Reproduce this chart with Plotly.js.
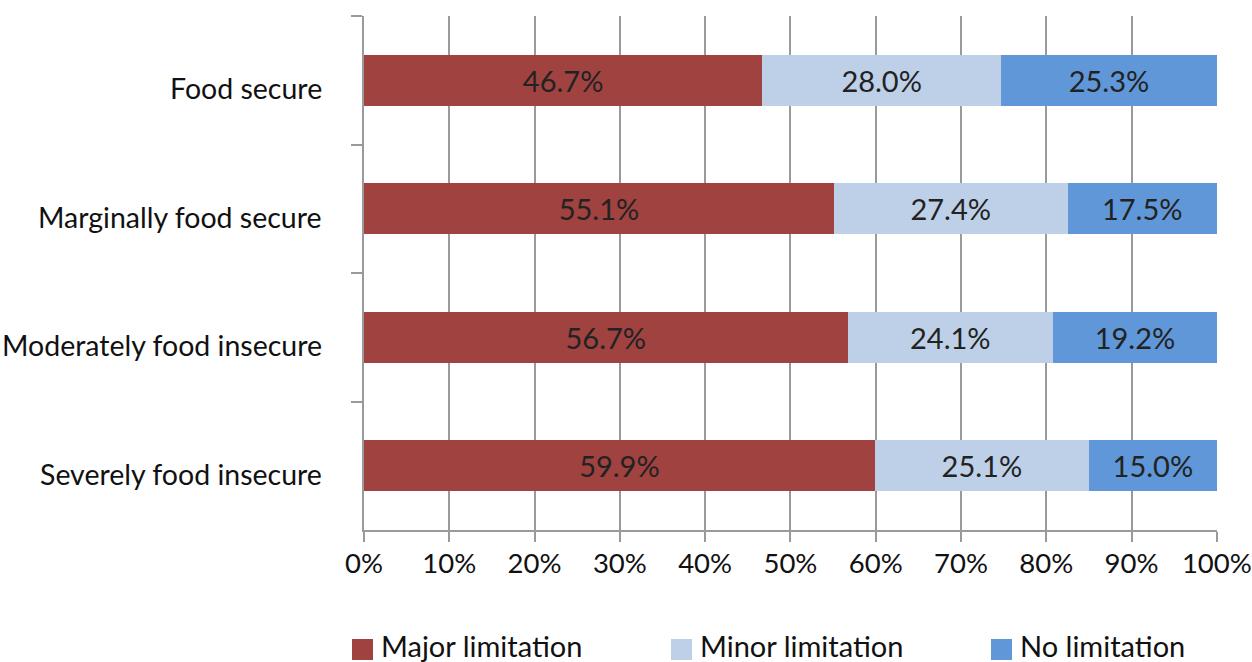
<!DOCTYPE html>
<html>
<head>
<meta charset="utf-8">
<script src="https://cdn.plot.ly/plotly-3.0.1.min.js"></script>
<style>
  html, body { margin: 0; padding: 0; background: #ffffff; }
  #chart { width: 1252px; height: 662px; }
</style>
</head>
<body>
<div id="chart"></div>
<script>
// Food security status groups, top to bottom
const categories = ['Food secure', 'Marginally food secure', 'Moderately food insecure', 'Severely food insecure'];

// Share of respondents (%) by level of limitation
const majorLimitation = [46.7, 55.1, 56.7, 59.9];
const minorLimitation = [28.0, 27.4, 24.1, 25.1];
const noLimitation    = [25.3, 17.5, 19.2, 15.0];

const seriesNames = ['Major limitation', 'Minor limitation', 'No limitation'];
const seriesColors = ['#9F4240', '#BED0E7', '#6097D8'];

const xTickValues = [0, 10, 20, 30, 40, 50, 60, 70, 80, 90, 100];
const xTickLabels = ['0%', '10%', '20%', '30%', '40%', '50%', '60%', '70%', '80%', '90%', '100%'];

const FONT = 'Lato, "Open Sans", sans-serif';
const TEXT_SIZE = 29;
const LABEL_SIZE = 28.5;
const TICK_SIZE = 27.5;
const AXIS_GREY = '#9a9a9a';

const seriesValues = [majorLimitation, minorLimitation, noLimitation];

const traces = seriesValues.map((vals, i) => ({
  type: 'bar',
  orientation: 'h',
  name: seriesNames[i],
  y: categories,
  x: vals,
  marker: { color: seriesColors[i], line: { width: 0 } },
  text: vals.map(v => v.toFixed(1) + '%'),
  textposition: 'inside',
  insidetextanchor: 'middle',
  textangle: 0,
  constraintext: 'none',
  insidetextfont: { family: FONT, size: TEXT_SIZE, color: '#222222' },
  hoverinfo: 'skip',
  showlegend: false,
  cliponaxis: false
}));

// Plot-area geometry in pixels, used for the paper-coordinate legend and labels
const plotLeft = 364, plotWidth = 853, plotTop = 16, plotHeight = 514;
const toPaperX = px => (px - plotLeft) / plotWidth;
const toPaperY = py => (plotTop + plotHeight - py) / plotHeight;

// Category labels to the left of the axis, sitting slightly below each bar's centre
const categoryLabels = categories.map(c => ({
  xref: 'paper', yref: 'y',
  x: toPaperX(324), y: c,
  xanchor: 'right', yanchor: 'middle',
  yshift: -8,
  text: c, showarrow: false,
  font: { family: FONT, size: LABEL_SIZE, color: '#111111' }
}));

// Legend drawn below the axis: a coloured square followed by the series name
const legendStarts = [352, 671, 991];
const legendShapes = legendStarts.map((px, i) => ({
  type: 'rect', xref: 'paper', yref: 'paper',
  x0: toPaperX(px), x1: toPaperX(px + 21),
  y0: toPaperY(639), y1: toPaperY(660),
  fillcolor: seriesColors[i], line: { width: 0 }
}));
const legendLabels = legendStarts.map((px, i) => ({
  xref: 'paper', yref: 'paper',
  x: toPaperX(px + 27), y: toPaperY(645),
  xanchor: 'left', yanchor: 'middle',
  text: seriesNames[i], showarrow: false,
  font: { family: FONT, size: TEXT_SIZE, color: '#111111' }
}));

const layout = {
  width: 1252,
  height: 662,
  margin: { l: plotLeft, r: 1252 - plotLeft - plotWidth, t: plotTop, b: 662 - plotTop - plotHeight, pad: 0 },
  paper_bgcolor: '#ffffff',
  plot_bgcolor: '#ffffff',
  barmode: 'stack',
  bargap: 0.606,
  showlegend: false,
  font: { family: FONT, size: TEXT_SIZE, color: '#111111' },
  xaxis: {
    range: [0, 100.02],
    tickvals: xTickValues,
    ticktext: xTickLabels,
    ticklabeloverflow: 'allow',
    showgrid: true,
    gridcolor: AXIS_GREY,
    gridwidth: 2,
    zeroline: false,
    showline: true,
    linecolor: AXIS_GREY,
    linewidth: 2,
    ticks: 'outside',
    ticklen: 10,
    tickwidth: 2,
    tickcolor: AXIS_GREY,
    ticklabelstandoff: -2,
    tickfont: { family: FONT, size: TICK_SIZE, color: '#111111' },
    fixedrange: true
  },
  yaxis: {
    type: 'category',
    autorange: 'reversed',
    tickson: 'boundaries',
    showticklabels: false,
    showgrid: false,
    zeroline: false,
    showline: true,
    linecolor: AXIS_GREY,
    linewidth: 2,
    ticks: 'outside',
    ticklen: 11,
    tickwidth: 2,
    tickcolor: AXIS_GREY,
    fixedrange: true
  },
  shapes: legendShapes,
  annotations: categoryLabels.concat(legendLabels)
};

Plotly.newPlot('chart', traces, layout, { displayModeBar: false, staticPlot: true });
</script>
</body>
</html>
